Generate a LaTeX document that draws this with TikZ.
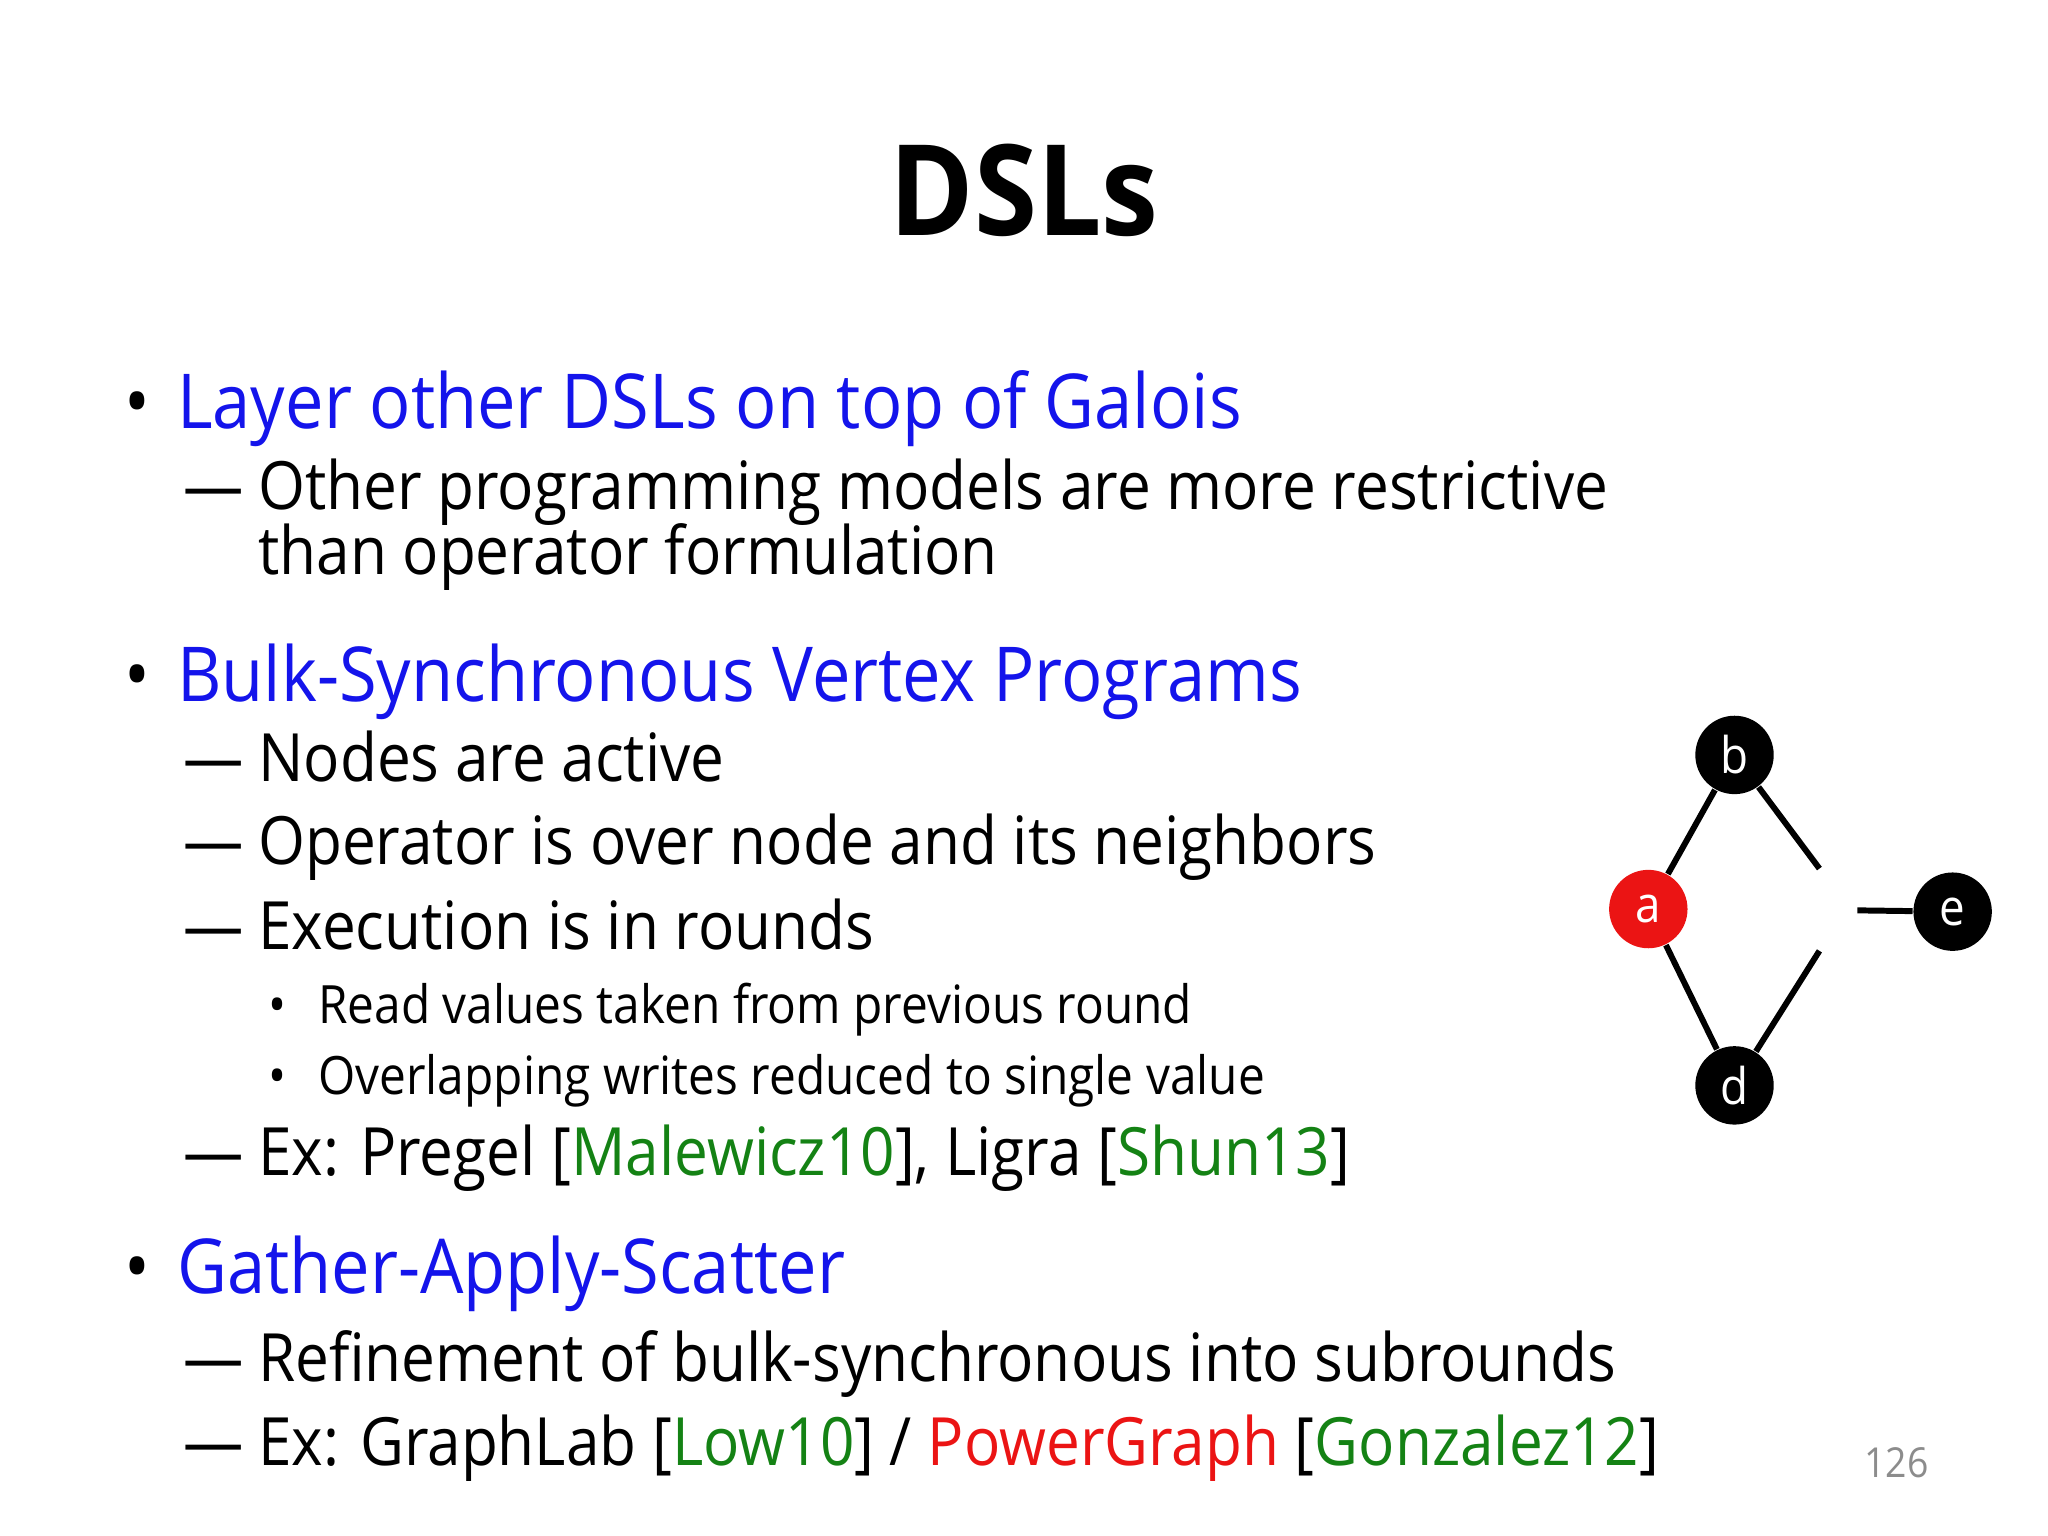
\documentclass[tikz,border=0pt]{standalone}
\usepackage{fontspec}
\setmainfont{Open Sans}[FakeStretch=0.905]
\definecolor{bl}{RGB}{20,20,235}
\definecolor{gr}{RGB}{20,130,20}
\definecolor{rd}{RGB}{235,20,20}
\begin{document}
\begin{tikzpicture}[x=0.01cm,y=-0.01cm,
  txt/.style={anchor=base west,inner sep=0},
  L1/.style={txt,font=\fontsize{16.5}{18}\selectfont},
  L2/.style={txt,font=\fontsize{14.5}{16}\selectfont},
  L3/.style={txt,font=\fontsize{11.5}{13}\selectfont},
  gn/.style={circle,fill=black,text=white,minimum size=0.6cm,inner sep=0,font=\fontsize{11}{12}\selectfont},
  ed/.style={line width=1.3pt}]
\useasboundingbox (0,0) rectangle (1568,1176);
\node[anchor=base,inner sep=0,font=\fontsize{27.5}{32}\selectfont\bfseries] (title) at (784,180) {DSLs};
\node[L1] (d1) at (95,328) {•};
\node[L1,text=bl] (b1) at (135,328) {Layer other DSLs on top of Galois};
\node[L2] (s1a) at (140,390) {—};
\node[L2] (s1) at (197,390) {Other programming models are more restrictive};
\node[L2] (s1b) at (197,440) {than operator formulation};
\node[L1] (d2) at (95,537) {•};
\node[L1,text=bl] (b2) at (135,537) {Bulk-Synchronous Vertex Programs};
\node[L2] (s2a) at (140,598) {—};
\node[L2] (s2) at (197,598) {Nodes are active};
\node[L2] (s3a) at (140,662) {—};
\node[L2] (s3) at (197,662) {Operator is over node and its neighbors};
\node[L2] (s4a) at (140,727) {—};
\node[L2] (s4) at (197,727) {Execution is in rounds};
\node[L3] (t1a) at (205,784) {•};
\node[L3] (t1) at (243,784) {Read values taken from previous round};
\node[L3] (t2a) at (205,838) {•};
\node[L3] (t2) at (243,838) {Overlapping writes reduced to single value};
\node[L2] (s5a) at (140,900) {—};
\node[L2] (s5) at (197,900) {Ex: Pregel [\textcolor{gr}{Malewicz10}], Ligra [\textcolor{gr}{Shun13}]};
\node[L1] (d3) at (95,990) {•};
\node[L1,text=bl] (b3) at (135,990) {Gather-Apply-Scatter};
\node[L2] (s6a) at (140,1058) {—};
\node[L2] (s6) at (197,1058) {Refinement of bulk-synchronous into subrounds};
\node[L2] (s7a) at (140,1122) {—};
\node[L2] (s7) at (197,1122) {Ex: GraphLab [\textcolor{gr}{Low10}] / \textcolor{rd}{PowerGraph} [\textcolor{gr}{Gonzalez12}]};
\node[anchor=base,inner sep=0,text=black!45,font=\fontsize{9}{10}\selectfont] (pg) at (1452,1131) {126};
\node[gn] (b) at (1328,578) {b};
\node[gn,fill=rd] (a) at (1262,696) {a};
\node[gn] (e) at (1495,698) {e};
\node[gn] (d) at (1328,831) {d};
\coordinate (bx) at (1393,665);
\coordinate (dx) at (1393,728);
\coordinate (ex) at (1422,697);
\draw[ed] (b) -- (a);
\draw[ed] (b) -- (bx);
\draw[ed] (a) -- (d);
\draw[ed] (d) -- (dx);
\draw[ed] (e) -- (ex);
\end{tikzpicture}
\end{document}
